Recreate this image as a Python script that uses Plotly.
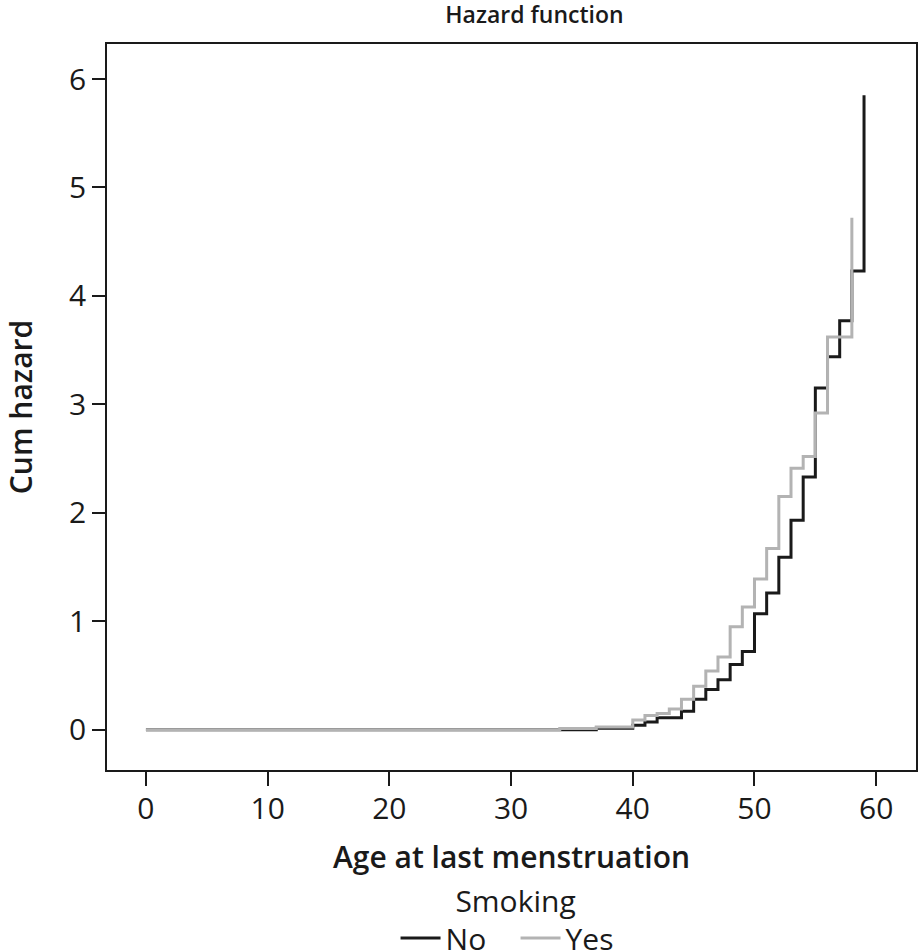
import plotly.graph_objects as go

# Data (cumulative hazard step functions)
age_no = [0, 37, 40, 41, 42, 44, 45, 46, 47, 48, 49, 50, 51, 52, 53, 54, 55, 56, 57, 58, 59]
haz_no = [0.0, 0.012, 0.04, 0.07, 0.11, 0.17, 0.28, 0.37, 0.46, 0.60, 0.72, 1.07, 1.26, 1.59, 1.93, 2.33, 3.15, 3.44, 3.77, 4.23, 5.85]

age_yes = [0, 34, 37, 40, 41, 42, 43, 44, 45, 46, 47, 48, 49, 50, 51, 52, 53, 54, 55, 56, 58]
haz_yes = [0.0, 0.01, 0.025, 0.09, 0.13, 0.15, 0.19, 0.28, 0.40, 0.54, 0.67, 0.95, 1.13, 1.39, 1.67, 2.15, 2.41, 2.52, 2.92, 3.62, 4.72]

x_ticks = [0, 10, 20, 30, 40, 50, 60]
y_ticks = [0, 1, 2, 3, 4, 5, 6]

FONT = "Open Sans"
INK = "#1a1a1a"

fig = go.Figure()
fig.add_trace(go.Scatter(x=age_no, y=haz_no, mode="lines", name="No",
                         line=dict(color=INK, width=3, shape="hv")))
fig.add_trace(go.Scatter(x=age_yes, y=haz_yes, mode="lines", name="Yes",
                         line=dict(color="#b3b3b3", width=3, shape="hv")))

fig.update_layout(
    width=918, height=952,
    paper_bgcolor="white", plot_bgcolor="white",
    margin=dict(l=107, r=2, t=44, b=182, autoexpand=False),
    font=dict(family=FONT, color=INK, size=30),
    title=dict(text="Hazard function", x=0.5822, xanchor="center",
               y=0.984, yanchor="middle",
               font=dict(family=FONT, size=23, weight=600)),
    showlegend=True,
    legend=dict(orientation="h", x=0.505, xanchor="center", y=-0.142, yanchor="top",
                title=dict(text="Smoking", side="top center", font=dict(size=30)),
                font=dict(size=30), itemwidth=40, tracegroupgap=0,
                entrywidth=65, entrywidthmode="pixels"),
)
fig.update_xaxes(
    range=[-3.2, 63.27], tickvals=x_ticks, ticks="outside", ticklen=14, tickwidth=1.8,
    tickcolor=INK, showline=True, linecolor=INK, linewidth=1.8, mirror=True,
    showgrid=False, zeroline=False, tickfont=dict(size=30), automargin=False,
    ticklabelstandoff=-3,
    title=dict(text="Age at last menstruation", font=dict(size=30, weight=600), standoff=20),
)
fig.update_yaxes(
    range=[-0.372, 6.323], tickvals=y_ticks, ticks="outside", ticklen=13, tickwidth=1.8,
    tickcolor=INK, showline=True, linecolor=INK, linewidth=1.8, mirror=True,
    showgrid=False, zeroline=False, tickfont=dict(size=30), automargin=False,
    ticklabelstandoff=0,
    title=dict(text="Cum hazard", font=dict(size=30, weight=600), standoff=50),
)

# remove the default 8px page margin so the figure fills the window exactly
fig.write_html("out.html", config={"displayModeBar": False},
               post_script="document.body.style.margin='0';")
